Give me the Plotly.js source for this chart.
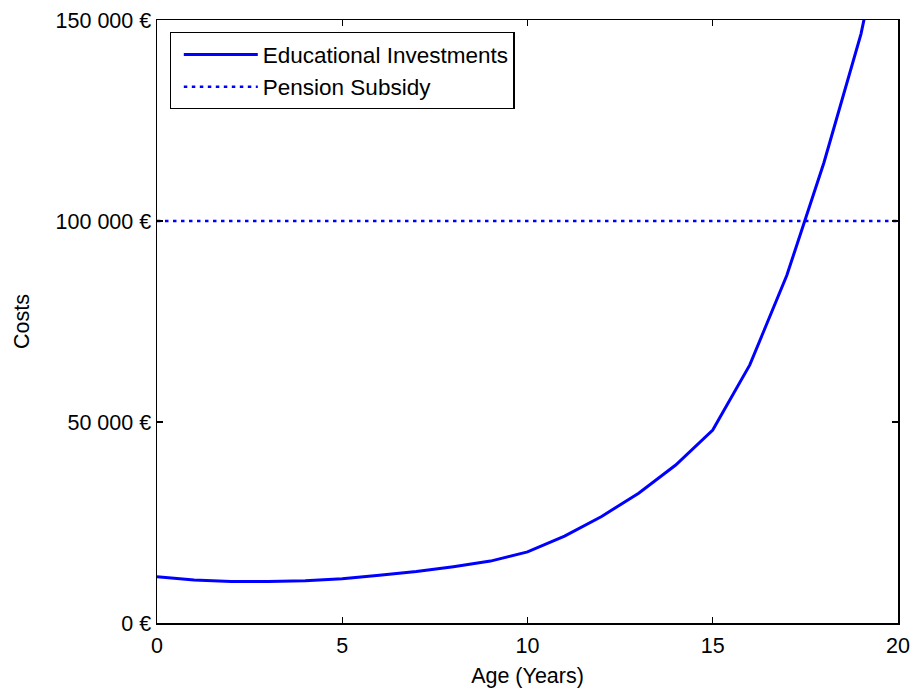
<!DOCTYPE html>
<html>
<head>
<meta charset="utf-8">
<script src="https://cdn.plot.ly/plotly-3.0.1.min.js"></script>
<style>html,body{margin:0;padding:0;background:#fff;}#chart{width:915px;height:695px;}</style>
</head>
<body>
<div id="chart"></div>
<script>
// Data
const ages = [0,1,2,3,4,5,6,7,8,9,10,11,12,13,14,15,16,17,18,19,20];
const educationalCosts = [11500,10700,10300,10300,10500,11000,11900,12800,14000,15400,17700,21600,26500,32300,39300,48000,64200,86500,114500,146500,190000];
const pensionAges = [0,20];
const pensionSubsidy = [100000,100000];
const xTicks = [0,5,10,15,20];
const yTickVals = [0,50000,100000,150000];
const yTickText = ['0 €','50 000 €','100 000 €','150 000 €'];
const seriesNames = ['Educational Investments','Pension Subsidy'];

const font = {family:'"Liberation Sans", Arial, sans-serif', size:21.5, color:'#000'};
const legendFont = {family:'"Liberation Sans", Arial, sans-serif', size:22.5, color:'#000'};

const traces = [
  {x:ages, y:educationalCosts, type:'scatter', mode:'lines', name:seriesNames[0],
   line:{color:'#0000ff', width:3}},
  {x:pensionAges, y:pensionSubsidy, type:'scatter', mode:'lines', name:seriesNames[1],
   line:{color:'#0000ff', width:2.5, dash:'3.5px,4.5px'}}
];

const layout = {
  width:915, height:695,
  margin:{l:157, r:17, t:20, b:72},
  paper_bgcolor:'#fff', plot_bgcolor:'#fff',
  font:font,
  showlegend:true,
  legend:{x:0.017, y:0.98, xanchor:'left', yanchor:'top', bordercolor:'#000', borderwidth:1.2,
          bgcolor:'#fff', font:legendFont, itemwidth:74, indentation:8, tracegroupgap:0},
  xaxis:{range:[0,20], tickvals:xTicks, ticks:'inside', ticklen:6, tickwidth:1.2, tickcolor:'#000',
         showline:true, linecolor:'#000', linewidth:1.5, mirror:'ticks', showgrid:false, zeroline:false,
         ticklabelstandoff:3,
         tickfont:font, title:{text:'Age (Years)', font:font, standoff:10}},
  yaxis:{range:[0,150000], tickvals:yTickVals, ticktext:yTickText, ticks:'inside', ticklen:6, tickwidth:1.2, tickcolor:'#000',
         showline:true, linecolor:'#000', linewidth:1.5, mirror:'ticks', showgrid:false, zeroline:false,
         tickfont:font, title:{text:'Costs', font:font, standoff:20}}
};

Plotly.newPlot('chart', traces, layout, {displayModeBar:false, staticPlot:true});
</script>
</body>
</html>
